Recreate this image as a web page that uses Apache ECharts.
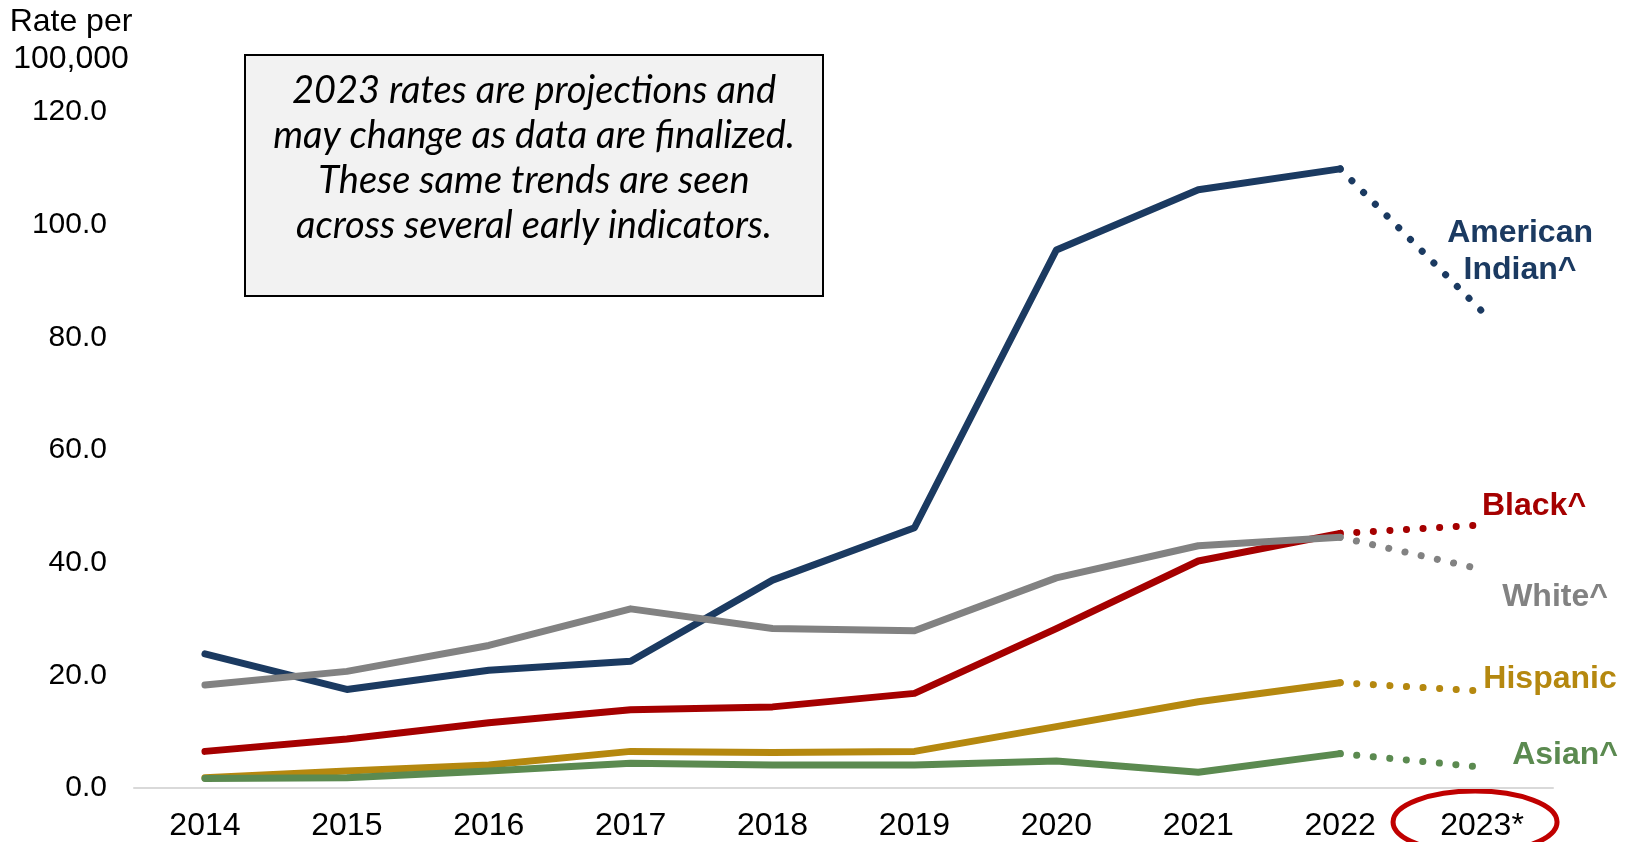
<!DOCTYPE html>
<html>
<head>
<meta charset="utf-8">
<script src="https://cdn.jsdelivr.net/npm/echarts@6/dist/echarts.min.js"></script>
<style>
  html, body { margin: 0; padding: 0; background: #ffffff; }
  #chart { width: 1630px; height: 842px; }
</style>
</head>
<body>
<div id="chart"></div>
<script>
// Overdose death rates per 100,000 by race/ethnicity, 2014–2023 (2023 projected)
const years = ['2014', '2015', '2016', '2017', '2018', '2019', '2020', '2021', '2022', '2023*'];
const yTicks = [0, 20, 40, 60, 80, 100, 120];

const americanIndian = [23.8, 17.5, 20.9, 22.5, 36.9, 46.2, 95.5, 106.2, 109.9, 84.6];
const black          = [6.5, 8.7, 11.6, 13.9, 14.4, 16.8, 28.3, 40.3, 45.2, 46.7];
const white          = [18.3, 20.7, 25.3, 31.8, 28.3, 27.9, 37.3, 43.0, 44.5, 38.8];
const hispanic       = [1.8, 3.0, 4.1, 6.5, 6.3, 6.5, 10.9, 15.3, 18.7, 17.2];
const asian          = [1.7, 1.8, 3.0, 4.4, 4.1, 4.1, 4.8, 2.8, 6.1, 3.7];

const groups = [
  { name: 'American Indian^', label: 'American\nIndian^', data: americanIndian, color: '#1B3A61', dx: 38, dy: -60 },
  { name: 'Black^',           label: 'Black^',            data: black,          color: '#A50000', dx: 52, dy: -19 },
  { name: 'White^',           label: 'White^',            data: white,          color: '#828282', dx: 73, dy: 28 },
  { name: 'Hispanic',         label: 'Hispanic',          data: hispanic,       color: '#B5880F', dx: 68, dy: -12 },
  { name: 'Asian^',           label: 'Asian^',            data: asian,          color: '#5B8A50', dx: 83, dy: -12 }
];

const lastActual = 8; // index of 2022, the last finalized year

const series = [];
groups.forEach(g => {
  // finalized years: solid line
  series.push({
    name: g.name,
    type: 'line',
    data: g.data.map((v, i) => (i <= lastActual ? v : '-')),
    showSymbol: false,
    symbol: 'none',
    lineStyle: { color: g.color, width: 7, cap: 'round', join: 'round' },
    z: 3,
    silent: true
  });
  // projected year: dotted continuation
  series.push({
    name: g.name + ' (projected)',
    type: 'line',
    data: g.data.map((v, i) => (i >= lastActual ? v : '-')),
    showSymbol: false,
    symbol: 'none',
    lineStyle: { color: g.color, width: 7, type: [0.1, 16.5], cap: 'round' },
    z: 2,
    silent: true
  });
});

const chart = echarts.init(document.getElementById('chart'), null, { renderer: 'canvas' });

const font = 'Liberation Sans, Arial, sans-serif';

chart.setOption({
  animation: false,
  backgroundColor: '#ffffff',
  grid: { left: 134, right: 77, top: 112, bottom: 54, containLabel: false },
  xAxis: {
    type: 'category',
    data: years,
    boundaryGap: true,
    axisLine: { show: true, lineStyle: { color: '#D9D9D9', width: 2 } },
    axisTick: { show: false },
    axisLabel: { color: '#000000', fontFamily: font, fontSize: 32, margin: 22 },
    splitLine: { show: false }
  },
  yAxis: {
    type: 'value',
    min: 0,
    max: 120,
    interval: 20,
    axisLine: { show: false },
    axisTick: { show: false },
    splitLine: { show: false },
    axisLabel: {
      color: '#000000', fontFamily: font, fontSize: 30, margin: 27,
      formatter: v => (yTicks.includes(v) ? v.toFixed(1) : '')
    }
  },
  series: series
});

// annotations: axis title, note box, group labels, projected-year marker
const graphics = [
  {
    type: 'text', x: 71, y: 4,
    style: {
      text: 'Rate per\n100,000', fill: '#000000', font: '32px ' + font,
      align: 'center', verticalAlign: 'top', lineHeight: 37
    }
  },
  {
    type: 'rect', shape: { x: 245, y: 55, width: 578, height: 241 },
    style: { fill: '#F2F2F2', stroke: '#000000', lineWidth: 2 }
  },
  {
    type: 'text', x: 534, y: 68,
    style: {
      text: '2023 rates are projections and\nmay change as data are finalized.\nThese same trends are seen\nacross several early indicators.',
      fill: '#000000', font: 'italic 38px Lato, "Open Sans", sans-serif',
      align: 'center', verticalAlign: 'top', lineHeight: 45
    }
  }
];

groups.forEach(g => {
  const p = chart.convertToPixel({ gridIndex: 0 }, [years.length - 1, g.data[years.length - 1]]);
  graphics.push({
    type: 'text', x: p[0] + g.dx, y: p[1] + g.dy,
    style: {
      text: g.label, fill: g.color, font: 'bold 32px ' + font,
      align: 'center', verticalAlign: 'middle', lineHeight: 37
    }
  });
});

const lastTick = chart.convertToPixel({ gridIndex: 0 }, [years.length - 1, 0]);
graphics.push({
  type: 'ellipse',
  shape: { cx: lastTick[0] - 7, cy: 822, rx: 82, ry: 31 },
  style: { fill: 'none', stroke: '#C00000', lineWidth: 5 }
});

chart.setOption({ graphic: graphics });
</script>
</body>
</html>
